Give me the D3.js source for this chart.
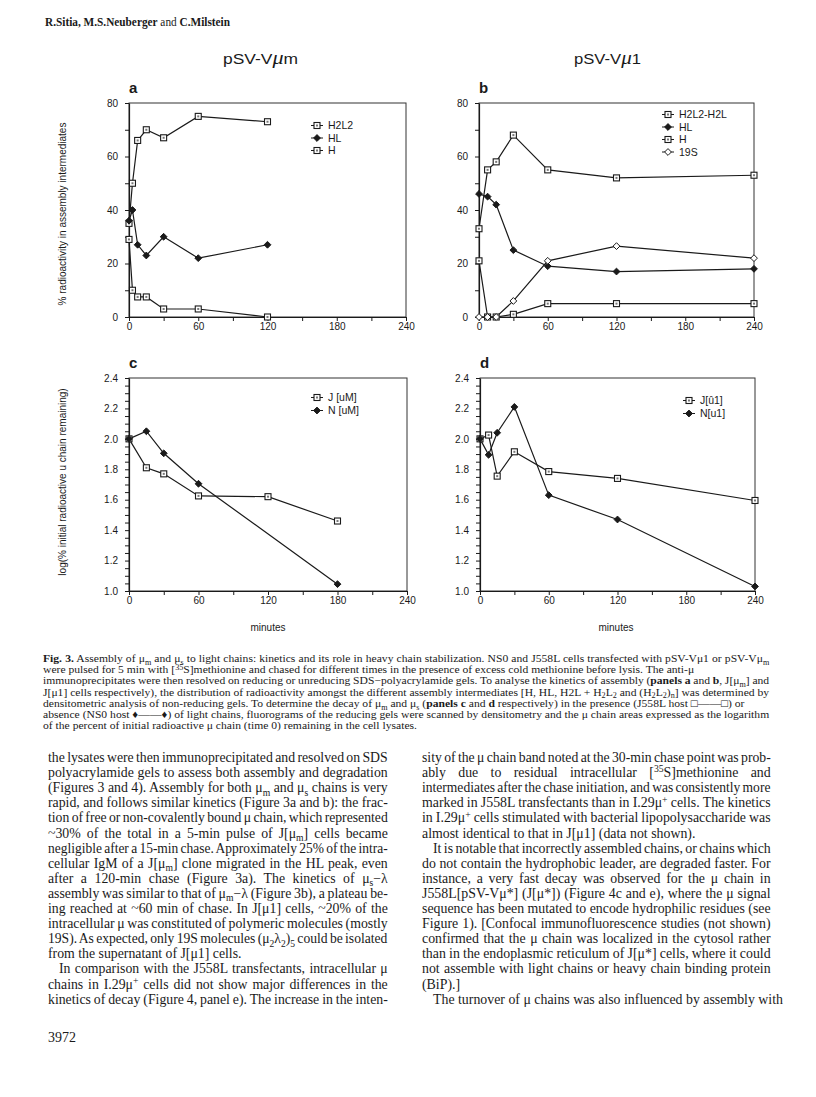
<!DOCTYPE html>
<html>
<head>
<meta charset="utf-8">
<script src="https://cdn.jsdelivr.net/npm/d3@7"></script>
<style>
  body { margin: 0; background: #fff; }
  svg { display: block; }
</style>
</head>
<body>
<div id="page"></div>
<script>
// panel a  (pSV-Vum, % radioactivity in assembly intermediates)
var timeA = [0, 3, 7.5, 15, 30, 60, 120]
var h2l2A = [35, 50, 66, 70, 67, 75, 73]
var hlA = [36, 40, 27, 23, 30, 22, 27]
var hA = [29, 10, 7.5, 7.5, 3, 3, 0]

// panel b  (pSV-Vu1)
var timeB = [0, 7.5, 15, 30, 60, 120, 240]
var h2l2B = [33, 55, 58, 68, 55, 52, 53]
var hlB = [46, 45, 42, 25, 19, 17, 18]
var hB = [21, 0, 0, 1, 5, 5, 5]
var s19B = [0, 0, 0, 6, 21, 26.5, 22]

// panel c  (log % initial chain remaining)
var timeCJ = [0, 15, 30, 60, 120, 180]
var jC = [2.0, 1.81, 1.77, 1.625, 1.62, 1.46]
var timeCN = [0, 15, 30, 60, 180]
var nC = [2.0, 2.05, 1.905, 1.705, 1.045]

// panel d
var timeD = [0, 7.5, 15, 30, 60, 120, 240]
var jD = [2.0, 2.025, 1.755, 1.915, 1.785, 1.74, 1.595]
var nD = [2.0, 1.895, 2.04, 2.21, 1.63, 1.47, 1.03]

var xLabelTicks = [0, 60, 120, 180, 240]
var yLabelsAB = [0, 20, 40, 60, 80]
var yLabelsCD = [1.0, 1.2, 1.4, 1.6, 1.8, 2.0, 2.2, 2.4]

var captionLines = [
  "**Fig. 3.** Assembly of μ_{m} and μ_{s} to light chains: kinetics and its role in heavy chain stabilization. NS0 and J558L cells transfected with pSV-Vμ1 or pSV-Vμ_{m}",
  "were pulsed for 5 min with [^{35}S]methionine and chased for different times in the presence of excess cold methionine before lysis. The anti-μ|",
  "immunoprecipitates were then resolved on reducing or unreducing SDS−polyacrylamide gels. To analyse the kinetics of assembly (**panels a** and **b**, J[μ_{m}] and",
  "J[μ1] cells respectively), the distribution of radioactivity amongst the different assembly intermediates [H, HL, H2L + H_{2}L_{2} and (H_{2}L_{2})_{n}] was determined by",
  "densitometric analysis of non-reducing gels. To determine the decay of μ_{m} and μ_{s} (**panels c** and **d** respectively) in the presence (J558L host □——□) or|",
  "absence (NS0 host ♦——♦) of light chains, fluorograms of the reducing gels were scanned by densitometry and the μ chain areas expressed as the logarithm",
  "of the percent of initial radioactive μ chain (time 0) remaining in the cell lysates.|"
]

var leftCol = [
  "the lysates were then immunoprecipitated and resolved on SDS",
  "polyacrylamide gels to assess both assembly and degradation",
  "(Figures 3 and 4). Assembly for both μ_{m} and μ_{s} chains is very",
  "rapid, and follows similar kinetics (Figure 3a and b): the frac-",
  "tion of free or non-covalently bound μ chain, which represented",
  "~30% of the total in a 5-min pulse of J[μ_{m}] cells became",
  "negligible after a 15-min chase. Approximately 25% of the intra-",
  "cellular IgM of a J[μ_{m}] clone migrated in the HL peak, even",
  "after a 120-min chase (Figure 3a). The kinetics of μ_{s}−λ",
  "assembly was similar to that of μ_{m}−λ (Figure 3b), a plateau be-",
  "ing reached at ~60 min of chase. In J[μ1] cells, ~20% of the",
  "intracellular μ was constituted of polymeric molecules (mostly",
  "19S). As expected, only 19S molecules (μ_{2}λ_{2})_{5} could be isolated",
  "from the supernatant of J[μ1] cells.|",
  ">In comparison with the J558L transfectants, intracellular μ",
  "chains in I.29μ^{+} cells did not show major differences in the",
  "kinetics of decay (Figure 4, panel e). The increase in the inten-"
]

var rightCol = [
  "sity of the μ chain band noted at the 30-min chase point was prob-",
  "ably due to residual intracellular [^{35}S]methionine and",
  "intermediates after the chase initiation, and was consistently more",
  "marked in J558L transfectants than in I.29μ^{+} cells. The kinetics",
  "in I.29μ^{+} cells stimulated with bacterial lipopolysaccharide was",
  "almost identical to that in J[μ1] (data not shown).|",
  ">It is notable that incorrectly assembled chains, or chains which",
  "do not contain the hydrophobic leader, are degraded faster. For",
  "instance, a very fast decay was observed for the μ chain in",
  "J558L[pSV-Vμ*] (J[μ*]) (Figure 4c and e), where the μ signal",
  "sequence has been mutated to encode hydrophilic residues (see",
  "Figure 1). [Confocal immunofluorescence studies (not shown)",
  "confirmed that the μ chain was localized in the cytosol rather",
  "than in the endoplasmic reticulum of J[μ*] cells, where it could",
  "not assemble with light chains or heavy chain binding protein",
  "(BiP).]|",
  ">The turnover of μ chains was also influenced by assembly with|"
]

var sans = "'Liberation Sans', Arial, Helvetica, sans-serif"
var serif = "'Liberation Serif', 'Times New Roman', serif"
var ink = "#1a1a1a"

var svg = d3.select("#page").append("svg").attr("width", 816).attr("height", 1097)
svg.append("rect").attr("width", 816).attr("height", 1097).attr("fill", "#fff")

function zip(xs, ys) {
  return xs.map(function (x, i) { return [x, ys[i]] })
}

function marker(g, type, cx, cy) {
  if (type == "sq") {
    g.append("rect").attr("x", cx - 3).attr("y", cy - 3).attr("width", 6).attr("height", 6)
      .attr("fill", "#fff").attr("stroke", ink).attr("stroke-width", 1.1)
    g.append("rect").attr("x", cx - 1).attr("y", cy - 1).attr("width", 2).attr("height", 2)
      .attr("fill", "#777")
  } else {
    var r = 3.4
    g.append("path")
      .attr("d", "M" + cx + "," + (cy - r) + "L" + (cx + r) + "," + cy + "L" + cx + "," + (cy + r) + "L" + (cx - r) + "," + cy + "Z")
      .attr("fill", type == "dia" ? ink : "#fff").attr("stroke", ink).attr("stroke-width", 1)
  }
}

function drawPanel(p) {
  var x = d3.scaleLinear().domain([0, 240]).range([p.left, p.right])
  var y = d3.scaleLinear().domain(p.yDomain).range([p.bottom, p.top])
  var g = svg.append("g")

  // frame
  g.append("rect").attr("x", p.left).attr("y", p.top)
    .attr("width", p.right - p.left).attr("height", p.bottom - p.top)
    .attr("fill", "none").attr("stroke", "#333").attr("stroke-width", 1)

  var fmt = p.fmt
  var yAxis = d3.axisLeft(y).tickValues(p.yMinor).tickSize(4).tickSizeOuter(0)
    .tickPadding(7)
    .tickFormat(function (d) {
      var hit = p.yLabels.some(function (v) { return Math.abs(v - d) < 1e-6 })
      return hit ? fmt(d) : ""
    })
  var ya = g.append("g").attr("transform", "translate(" + p.left + ",0)").call(yAxis)

  var xAxis = d3.axisBottom(x).tickValues(d3.range(0, 241, 30)).tickSize(4).tickSizeOuter(0)
    .tickPadding(2)
    .tickFormat(function (d) { return xLabelTicks.indexOf(d) >= 0 ? d : "" })
  var xa = g.append("g").attr("transform", "translate(0," + p.bottom + ")").call(xAxis)

  ;[ya, xa].forEach(function (a) {
    a.select(".domain").attr("stroke", ink).attr("stroke-width", 1.2)
    a.selectAll(".tick line").attr("stroke", ink)
    a.selectAll("text").attr("font-family", sans).attr("font-size", 10).attr("fill", ink)
  })

  // series
  var line = d3.line().x(function (d) { return x(d[0]) }).y(function (d) { return y(d[1]) })
  p.series.forEach(function (s) {
    g.append("path").datum(s.data).attr("d", line)
      .attr("fill", "none").attr("stroke", ink).attr("stroke-width", 1.2)
  })
  p.series.forEach(function (s) {
    s.data.forEach(function (d) { marker(g, s.mark, x(d[0]), y(d[1])) })
  })

  // legend
  p.series.forEach(function (s, i) {
    var ly = p.legY + i * p.legStep
    g.append("line").attr("x1", p.legX - 6).attr("x2", p.legX + 6)
      .attr("y1", ly - 3.5).attr("y2", ly - 3.5).attr("stroke", ink).attr("stroke-width", 1)
    marker(g, s.mark, p.legX, ly - 3.5)
    g.append("text").attr("x", p.legX + 11).attr("y", ly).text(s.name)
      .attr("font-family", sans).attr("font-size", 10.5).attr("fill", ink)
  })

  // panel letter
  g.append("text").attr("x", p.left).attr("y", p.top - 10).text(p.letter)
    .attr("font-family", sans).attr("font-weight", "bold").attr("font-size", 15).attr("fill", ink)
}

var f0 = d3.format("d")
var f1 = d3.format(".1f")

drawPanel({
  left: 129, right: 406, top: 103, bottom: 317, yDomain: [0, 80],
  yMinor: d3.range(0, 81, 10), yLabels: yLabelsAB, fmt: f0, letter: "a",
  legX: 317, legY: 129, legStep: 12.5,
  series: [
    { name: "H2L2", mark: "sq", data: zip(timeA, h2l2A) },
    { name: "HL", mark: "dia", data: zip(timeA, hlA) },
    { name: "H", mark: "sq", data: zip(timeA, hA) }
  ]
})

drawPanel({
  left: 479, right: 754, top: 103, bottom: 317, yDomain: [0, 80],
  yMinor: d3.range(0, 81, 10), yLabels: yLabelsAB, fmt: f0, letter: "b",
  legX: 668, legY: 118, legStep: 12.5,
  series: [
    { name: "H2L2-H2L", mark: "sq", data: zip(timeB, h2l2B) },
    { name: "HL", mark: "dia", data: zip(timeB, hlB) },
    { name: "H", mark: "sq", data: zip(timeB, hB) },
    { name: "19S", mark: "odia", data: zip(timeB, s19B) }
  ]
})

drawPanel({
  left: 129, right: 407, top: 378, bottom: 591, yDomain: [1.0, 2.4],
  yMinor: d3.range(0, 29).map(function (i) { return 1.0 + i * 0.05 }), yLabels: yLabelsCD, fmt: f1, letter: "c",
  legX: 317, legY: 401, legStep: 13,
  series: [
    { name: "J [uM]", mark: "sq", data: zip(timeCJ, jC) },
    { name: "N [uM]", mark: "dia", data: zip(timeCN, nC) }
  ]
})

drawPanel({
  left: 480, right: 755, top: 378, bottom: 591, yDomain: [1.0, 2.4],
  yMinor: d3.range(0, 29).map(function (i) { return 1.0 + i * 0.05 }), yLabels: yLabelsCD, fmt: f1, letter: "d",
  legX: 689, legY: 404, legStep: 13,
  series: [
    { name: "J[û1]", mark: "sq", data: zip(timeD, jD) },
    { name: "N[u1]", mark: "dia", data: zip(timeD, nD) }
  ]
})

// axis titles
function vlabel(cx, cy, txt) {
  svg.append("text").attr("transform", "translate(" + cx + "," + cy + ") rotate(-90)")
    .attr("text-anchor", "middle").text(txt)
    .attr("font-family", sans).attr("font-size", 10).attr("fill", ink)
}
vlabel(66, 214, "% radioactivity in assembly intermediates")
vlabel(66, 482, "log(% initial radioactive u chain remaining)")

svg.append("text").attr("x", 268).attr("y", 631).attr("text-anchor", "middle").text("minutes")
  .attr("font-family", sans).attr("font-size", 10).attr("fill", ink)
svg.append("text").attr("x", 616).attr("y", 631).attr("text-anchor", "middle").text("minutes")
  .attr("font-family", sans).attr("font-size", 10).attr("fill", ink)

// construct titles
function title(x0, len, tail) {
  var t = svg.append("text").attr("x", x0).attr("y", 64)
    .attr("font-family", sans).attr("font-size", 15).attr("fill", ink)
    .attr("textLength", len).attr("lengthAdjust", "spacingAndGlyphs")
  t.append("tspan").text("pSV-V")
  t.append("tspan").text("μ").attr("font-family", serif).attr("font-style", "italic").attr("font-size", 19)
  t.append("tspan").text(tail)
}
title(223, 75, "m")
title(574, 67, "1")

// running head and folio
var head = svg.append("text").attr("x", 45).attr("y", 26)
  .attr("font-family", serif).attr("font-size", 11.5).attr("fill", ink)
  .attr("textLength", 185).attr("lengthAdjust", "spacingAndGlyphs")
head.append("tspan").text("R.Sitia, M.S.Neuberger").attr("font-weight", "bold")
head.append("tspan").text(" and ")
head.append("tspan").text("C.Milstein").attr("font-weight", "bold")

svg.append("text").attr("x", 48).attr("y", 1042).text("3972")
  .attr("font-family", serif).attr("font-size", 14).attr("fill", ink)

// text with sub/superscripts and bold runs
function richText(sel, str, size) {
  var parts = str.split(/(\*\*.+?\*\*|_\{.*?\}|\^\{.*?\})/)
  var cur = 0
  parts.forEach(function (p) {
    if (!p) return
    var shift = 0, bold = false, fs = size, txt = p
    if (p.indexOf("**") == 0) { bold = true; txt = p.slice(2, -2) }
    else if (p.indexOf("_{") == 0) { shift = size * 0.25; fs = size * 0.7; txt = p.slice(2, -1) }
    else if (p.indexOf("^{") == 0) { shift = -size * 0.33; fs = size * 0.7; txt = p.slice(2, -1) }
    var t = sel.append("tspan").text(txt).attr("dy", shift - cur)
    if (fs != size) t.attr("font-size", fs)
    if (bold) t.attr("font-weight", "bold")
    cur = shift
  })
}

// justified block: glyphs squeezed a little, then gaps between words widened
function drawBlock(lines, x, y0, lh, width, size, indent) {
  var g = svg.append("g").attr("font-family", serif).attr("font-size", size).attr("fill", ink)
  var items = []
  lines.forEach(function (s, i) {
    var ind = s.charAt(0) == ">"
    var rag = s.charAt(s.length - 1) == "|"
    var str = s.replace(/^>/, "").replace(/\|$/, "")
    var t = g.append("text").attr("x", 0).attr("y", 0)
    richText(t, str, size)
    items.push({ t: t, x: x + (ind ? indent : 0), y: y0 + i * lh, nat: t.node().getComputedTextLength(),
      target: width - (ind ? indent : 0), rag: rag, spaces: (str.match(/ /g) || []).length })
  })
  var r = d3.median(items.filter(function (d) { return !d.rag }), function (d) { return d.target / d.nat })
  var minGap = -size * 0.08
  items.forEach(function (d) {
    var s = r
    if (!d.rag && d.spaces > 0) {
      var extra = (d.target / s - d.nat) / d.spaces
      if (extra < minGap) {
        extra = minGap
        s = d.target / (d.nat + minGap * d.spaces)
      }
      d.t.style("word-spacing", extra + "px")
    }
    d.t.attr("transform", "translate(" + d.x + "," + d.y + ") scale(" + s + ",1)")
  })
}

drawBlock(captionLines, 43, 662, 11.2, 727, 10.8, 0)
drawBlock(leftCol, 48, 762, 15.1, 340, 14, 11)
drawBlock(rightCol, 422, 762, 15.1, 349, 14, 11)
</script>
</body>
</html>
